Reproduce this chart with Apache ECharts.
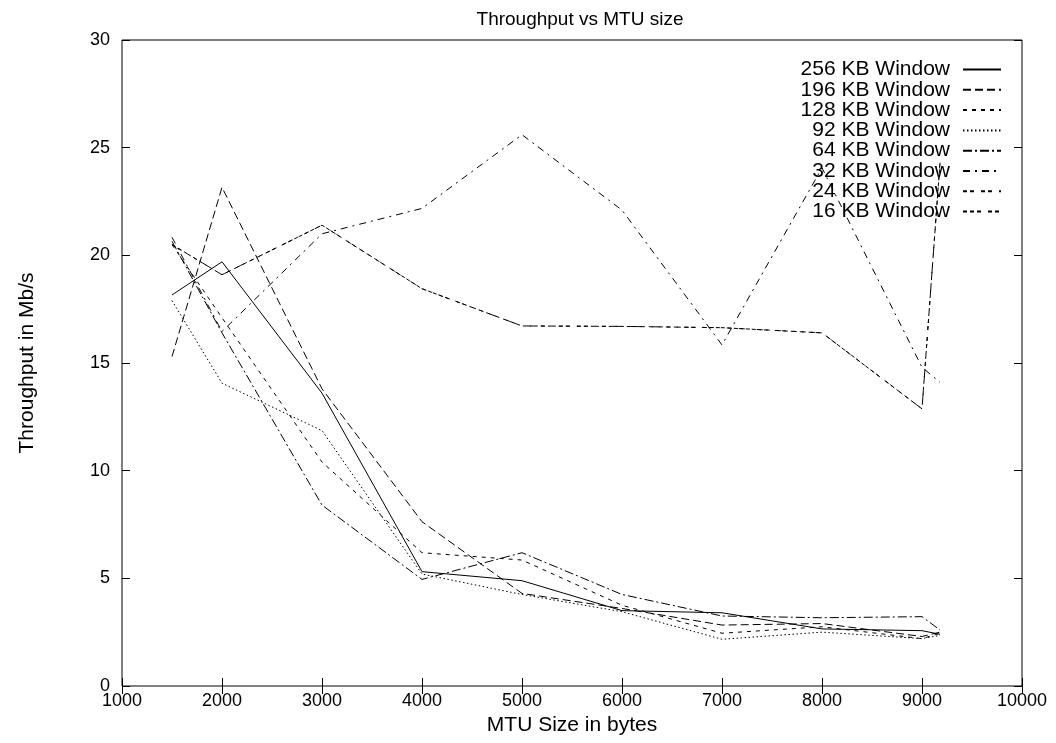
<!DOCTYPE html>
<html>
<head>
<meta charset="utf-8">
<script src="https://cdn.jsdelivr.net/npm/echarts@6/dist/echarts.min.js"></script>
<style>
html,body{margin:0;padding:0;background:#fff;}
#chart{width:1056px;height:743px;}
</style>
</head>
<body>
<div id="chart"></div>
<script>
// MTU sizes (bytes)
const mtu = [1500, 2000, 3000, 4000, 5000, 6000, 7000, 8000, 9000, 9180];
// Throughput (Mb/s) per window size
const w256 = [18.16, 19.7, 13.6, 5.31, 4.89, 3.5, 3.4, 2.65, 2.57, 2.4];
const w196 = [15.3, 23.16, 13.8, 7.63, 4.3, 3.6, 2.83, 2.9, 2.3, 2.5];
const w128 = [20.5, 17.1, 10.4, 6.19, 5.85, 3.75, 2.45, 2.75, 2.2, 2.45];
const w92  = [17.9, 14.06, 11.86, 5.2, 4.25, 3.45, 2.17, 2.5, 2.2, 2.35];
const w64  = [20.65, 16.4, 8.4, 4.95, 6.19, 4.25, 3.25, 3.17, 3.22, 2.6];
const w32  = [20.84, 16.46, 21.0, 22.18, 25.6, 22.1, 15.84, 24.06, 14.8, 14.1];
const w24  = [20.5, 19.1, 21.4, 18.45, 16.72, 16.7, 16.64, 16.4, 12.87, 24.3];
const w16  = [20.5, 19.1, 21.4, 18.45, 16.72, 16.7, 16.64, 16.4, 12.87, 24.3];
const names = ['256 KB Window','196 KB Window','128 KB Window','92 KB Window','64 KB Window','32 KB Window','24 KB Window','16 KB Window'];
const values = [w256, w196, w128, w92, w64, w32, w24, w16];
const dashes = ['solid', [8,4], [4,5], [1.5,2.5], [9,3,2,3], [7,5,2,5], [4,3,4,7], [4,3,4,3,4,7]];
const xTicks = {min: 1000, max: 10000, interval: 1000};
const yTicks = {min: 0, max: 30, interval: 5};

const FONT = 'Liberation Sans';
const chart = echarts.init(document.getElementById('chart'), null, {renderer: 'canvas'});

const series = names.map((n, i) => ({
  name: n,
  type: 'line',
  xAxisIndex: 0,
  yAxisIndex: 0,
  data: mtu.map((x, j) => [x, values[i][j]]),
  symbol: 'none',
  showSymbol: false,
  animation: false,
  lineStyle: {color: '#000', width: 1, type: dashes[i]},
  itemStyle: {color: '#000'}
}));

const tickAxisCommon = {
  axisLine: {show: false},
  splitLine: {show: false},
  axisTick: {show: true, inside: true, length: 8, lineStyle: {color: '#000', width: 1}}
};

chart.setOption({
  animation: false,
  backgroundColor: '#fff',
  title: {
    text: 'Throughput vs MTU size',
    left: 575, top: 5, textAlign: 'center',
    textStyle: {fontFamily: FONT, fontSize: 19, fontWeight: 'normal', color: '#000'}
  },
  grid: {left: 122, right: 34, top: 40, bottom: 57, show: true, borderColor: '#000', borderWidth: 1, containLabel: false},
  legend: {
    orient: 'vertical', right: 49, top: 54, align: 'right',
    itemWidth: 38, itemHeight: 10, itemGap: -0.7,
    itemStyle: {opacity: 0},
    textStyle: {fontFamily: FONT, fontSize: 21, lineHeight: 20.3, color: '#000', width: 160, align: 'right', padding: [0, 8, 0, 0]},
    data: names
  },
  xAxis: [
    Object.assign({type: 'value', position: 'bottom', min: xTicks.min, max: xTicks.max, interval: xTicks.interval,
      name: 'MTU Size in bytes', nameLocation: 'middle', nameGap: 26,
      nameTextStyle: {fontFamily: FONT, fontSize: 21, color: '#000'},
      axisLabel: {fontFamily: FONT, fontSize: 18, color: '#000', margin: 6, formatter: v => String(v)}}, tickAxisCommon),
    Object.assign({type: 'value', position: 'top', min: xTicks.min, max: xTicks.max, interval: xTicks.interval,
      axisLabel: {show: false}}, tickAxisCommon)
  ],
  yAxis: [
    Object.assign({type: 'value', position: 'left', min: yTicks.min, max: yTicks.max, interval: yTicks.interval,
      name: 'Throughput in Mb/s', nameLocation: 'middle', nameGap: 84, nameRotate: 90,
      nameTextStyle: {fontFamily: FONT, fontSize: 21, color: '#000'},
      axisLabel: {fontFamily: FONT, fontSize: 18, color: '#000', margin: 12, formatter: v => String(v)}}, tickAxisCommon),
    Object.assign({type: 'value', position: 'right', min: yTicks.min, max: yTicks.max, interval: yTicks.interval,
      axisLabel: {show: false}}, tickAxisCommon)
  ],
  series: series
});
</script>
</body>
</html>
